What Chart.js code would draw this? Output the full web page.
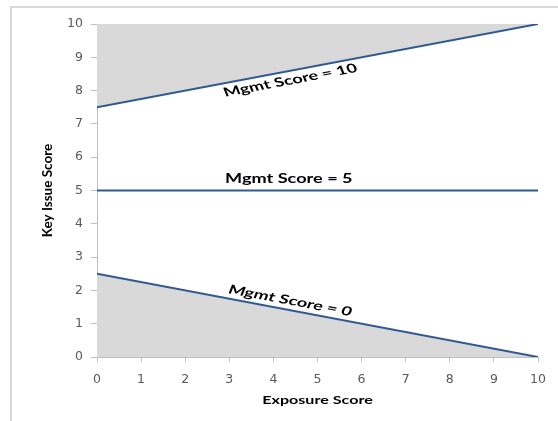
<!DOCTYPE html>
<html>
<head>
<meta charset="utf-8">
<script src="https://cdn.jsdelivr.net/npm/chart.js@4"></script>
<style>
  html, body { margin: 0; padding: 0; background: #fff; }
  #wrap { width: 558px; height: 421px; position: relative; }
</style>
</head>
<body>
<div id="wrap"><canvas id="chart" width="558" height="421"></canvas></div>
<script>
const exposure = [0, 10];
const mgmt10 = [7.5, 10];
const mgmt5 = [5, 5];
const mgmt0 = [2.5, 0];
const seriesNames = ["Mgmt Score = 10", "Mgmt Score = 5", "Mgmt Score = 0"];
const xTicks = [0, 1, 2, 3, 4, 5, 6, 7, 8, 9, 10];
const yTicks = [0, 1, 2, 3, 4, 5, 6, 7, 8, 9, 10];
const xTitle = "Exposure Score";
const yTitle = "Key Issue Score";

const lineBlue = "#2f5a8f";
const shade = "#d9d9d9";
const axisGrey = "#bfbfbf";
const stretch = 1.45; // the original picture is squashed wide, so its text is too
const points = ys => exposure.map((x, i) => ({ x, y: ys[i] }));

// where each series name sits: x along the line, which side, gap in px
const labelSpots = [
  { x: 4.3, side: "below", gap: 3 },
  { x: 4.35, side: "above", gap: 5 },
  { x: 4.3, side: "above", gap: 3 }
];

const frame = {
  id: "frame",
  beforeDraw(chart) {
    const ctx = chart.ctx;
    ctx.save();
    ctx.strokeStyle = "#d9d9d9";
    ctx.lineWidth = 2;
    ctx.beginPath();
    ctx.moveTo(11, 421);
    ctx.lineTo(11, 7);
    ctx.lineTo(558, 7);
    ctx.stroke();
    ctx.restore();
  }
};

const wideText = {
  id: "wideText",
  afterDatasetsDraw(chart) {
    const { ctx, scales: { x, y } } = chart;
    ctx.save();
    ctx.fillStyle = "#000";
    ctx.textAlign = "center";

    ctx.font = "bold 12.5px Lato";
    chart.data.datasets.forEach((ds, i) => {
      const spot = labelSpots[i];
      const p0 = ds.data[0], p1 = ds.data[1];
      const x0 = x.getPixelForValue(p0.x), y0 = y.getPixelForValue(p0.y);
      const x1 = x.getPixelForValue(p1.x), y1 = y.getPixelForValue(p1.y);
      const angle = Math.atan2(y1 - y0, (x1 - x0) / stretch);
      const t = (spot.x - p0.x) / (p1.x - p0.x);
      const px = x0 + (x1 - x0) * t, py = y0 + (y1 - y0) * t;
      ctx.save();
      ctx.translate(px, py);
      ctx.scale(stretch, 1);
      ctx.rotate(angle);
      if (spot.side === "below") {
        ctx.textBaseline = "top";
        ctx.fillText(ds.label, 0, spot.gap);
      } else {
        ctx.textBaseline = "bottom";
        ctx.fillText(ds.label, 0, -spot.gap);
      }
      ctx.restore();
    });

    ctx.font = "bold 11.5px Lato";
    ctx.textBaseline = "middle";
    ctx.save();
    ctx.translate((x.left + x.right) / 2, x.bottom - 21);
    ctx.scale(1.4, 1);
    ctx.fillText(xTitle, 0, 0);
    ctx.restore();
    ctx.restore();
  }
};

const tickFont = { family: "DejaVu Sans", size: 12.5 };

new Chart(document.getElementById("chart"), {
  type: "scatter",
  data: {
    datasets: [
      { label: seriesNames[0], data: points(mgmt10), fill: "end" },
      { label: seriesNames[1], data: points(mgmt5), fill: false },
      { label: seriesNames[2], data: points(mgmt0), fill: "origin" }
    ].map(ds => Object.assign(ds, {
      showLine: true, borderColor: lineBlue, borderWidth: 2,
      backgroundColor: shade, pointRadius: 0, tension: 0
    }))
  },
  options: {
    responsive: false,
    animation: false,
    layout: { padding: { left: 11, right: 20, top: 24, bottom: 0 } },
    plugins: { legend: { display: false }, tooltip: { enabled: false } },
    scales: {
      x: {
        type: "linear", min: 0, max: 10,
        afterBuildTicks: s => { s.ticks = xTicks.map(v => ({ value: v })); },
        afterFit: s => { s.height = 64; },
        grid: { drawOnChartArea: false, color: axisGrey, tickLength: 5 },
        border: { color: axisGrey },
        ticks: { color: "#595959", font: tickFont, padding: 10, maxRotation: 0 },
        title: { display: false, text: xTitle }
      },
      y: {
        type: "linear", min: 0, max: 10,
        afterBuildTicks: s => { s.ticks = yTicks.map(v => ({ value: v })); },
        afterFit: s => { s.width = 86; },
        grid: { drawOnChartArea: false, color: axisGrey, tickLength: 6 },
        border: { color: axisGrey },
        ticks: { color: "#595959", font: tickFont, padding: 8 },
        title: { display: true, text: yTitle, color: "#000",
                 font: { family: "Lato", size: 13.5, weight: "bold" }, padding: { top: 29, bottom: 0 } }
      }
    }
  },
  plugins: [frame, wideText]
});
</script>
</body>
</html>
